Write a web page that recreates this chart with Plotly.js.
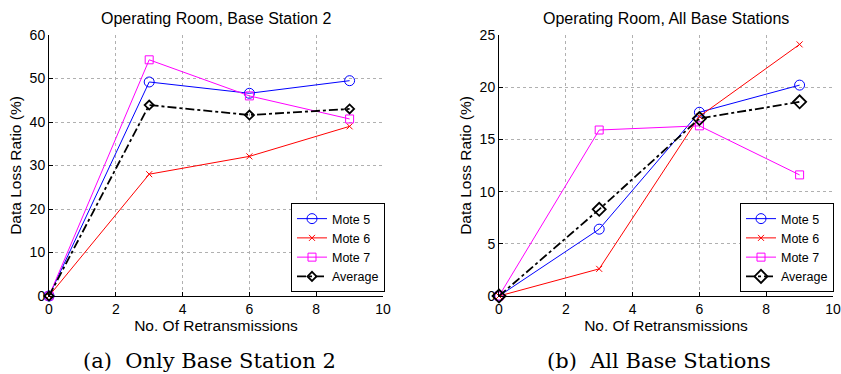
<!DOCTYPE html>
<html><head><meta charset="utf-8">
<script src="https://cdn.plot.ly/plotly-3.0.1.min.js"></script>
<style>body{margin:0;background:#fff}#plot{width:841px;height:374px}</style>
</head><body><div id="plot"></div>
<script>
const xVals = [0, 3, 6, 9];
const seriesNames = ["Mote 5", "Mote 6", "Mote 7", "Average"];
// Left: Only Base Station 2
const leftMote5 = [0, 49.2, 46.6, 49.5];
const leftMote6 = [0, 28.0, 32.1, 39.0];
const leftMote7 = [0, 54.3, 46.0, 40.7];
const leftAvg   = [0, 43.9, 41.6, 43.0];
// Right: All Base Stations
const rightMote5 = [0, 6.4, 17.6, 20.2];
const rightMote6 = [0, 2.6, 17.2, 24.1];
const rightMote7 = [0, 15.9, 16.3, 11.6];
const rightAvg   = [0, 8.3, 17.0, 18.6];
const leftTitle = "Operating Room, Base Station 2";
const rightTitle = "Operating Room, All Base Stations";
const leftCaption = "(a)  Only Base Station 2";
const rightCaption = "(b)  All Base Stations";
const xLabel = "No. Of Retransmissions";
const yLabel = "Data Loss Ratio (%)";

const styles = [
  {color: "#0000ff", symbol: "circle-open", size: 10, dash: "solid", width: 1},
  {color: "#ff0000", symbol: "x-thin-open", size: 6, dash: "solid", width: 1},
  {color: "#ff00ff", symbol: "square-open", size: 8, dash: "solid", width: 1},
  {color: "#000000", symbol: "diamond-open", size: 7, dash: "dashdot", width: 1.8}
];

function mk(ys, i, xa, ya, leg, msize) {
  const s = styles[i];
  return {x: xVals, y: ys, name: seriesNames[i], type: "scatter", mode: "lines+markers",
    xaxis: xa, yaxis: ya, legend: leg, cliponaxis: false,
    line: {color: s.color, width: s.width, dash: s.dash},
    marker: {symbol: s.symbol, size: msize || s.size, color: s.color, line: {color: s.color, width: i===3?1.8:1}}};
}
const data = [
  mk(leftMote5, 0, "x", "y", "legend"),
  mk(leftMote6, 1, "x", "y", "legend"),
  mk(leftMote7, 2, "x", "y", "legend"),
  mk(leftAvg, 3, "x", "y", "legend"),
  mk(rightMote5, 0, "x2", "y2", "legend2"),
  mk(rightMote6, 1, "x2", "y2", "legend2"),
  mk(rightMote7, 2, "x2", "y2", "legend2"),
  mk(rightAvg, 3, "x2", "y2", "legend2", 10)
];

const sans = "Liberation Sans, Arial, sans-serif";
const tickFont = {family: sans, size: 14, color: "#000"};
const axTitleFont = {family: sans, size: 15.5, color: "#000"};
const titleFont = {family: sans, size: 16, color: "#000"};
function ax(extra) {
  return Object.assign({
    showline: true, linecolor: "#000", linewidth: 1, mirror: false,
    ticks: "inside", ticklen: 4, tickcolor: "#000",
    showgrid: true, gridcolor: "#b0b0b0", griddash: "dot", gridwidth: 1,
    zeroline: false, tickfont: tickFont
  }, extra);
}
const yDom = [1 - 296/374, 1 - 35/374];
const legendBase = {xanchor: "left", yanchor: "bottom",
    bordercolor: "#000", borderwidth: 1, bgcolor: "#fff",
    font: {family: sans, size: 12.5, color: "#000"},
    tracegroupgap: 0, itemwidth: 30};
const layout = {
  width: 841, height: 374, margin: {l: 0, r: 0, t: 0, b: 0},
  paper_bgcolor: "#fff", plot_bgcolor: "#fff", showlegend: true,
  xaxis: ax({domain: [49/841, 383/841], range: [0, 10], dtick: 2, anchor: "y",
    title: {text: xLabel, font: axTitleFont, standoff: 0}}),
  yaxis: ax({domain: yDom, range: [0, 60], dtick: 10, anchor: "x",
    title: {text: yLabel, font: axTitleFont, standoff: 4}}),
  xaxis2: ax({domain: [499/841, 833/841], range: [0, 10], dtick: 2, anchor: "y2",
    title: {text: xLabel, font: axTitleFont, standoff: 0}}),
  yaxis2: ax({domain: yDom, range: [0, 25], dtick: 5, anchor: "x2",
    title: {text: yLabel, font: axTitleFont, standoff: 4}}),
  legend: Object.assign({x: 291/841, y: 1 - 292/374}, legendBase),
  legend2: Object.assign({x: 740/841, y: 1 - 292/374}, legendBase),
  annotations: [
    {text: leftTitle, x: 216/841, y: 1 - 19/374, xref: "paper", yref: "paper", showarrow: false,
      xanchor: "center", yanchor: "middle", font: titleFont},
    {text: rightTitle, x: 666/841, y: 1 - 19/374, xref: "paper", yref: "paper", showarrow: false,
      xanchor: "center", yanchor: "middle", font: titleFont},
    {text: leftCaption, x: 209/841, y: 1 - 361/374, xref: "paper", yref: "paper", showarrow: false,
      xanchor: "center", yanchor: "middle",
      font: {family: "DejaVu Serif, Liberation Serif, serif", size: 21, color: "#000"}},
    {text: rightCaption, x: 659/841, y: 1 - 361/374, xref: "paper", yref: "paper", showarrow: false,
      xanchor: "center", yanchor: "middle",
      font: {family: "DejaVu Serif, Liberation Serif, serif", size: 21, color: "#000"}}
  ]
};
Plotly.newPlot("plot", data, layout, {staticPlot: true, displayModeBar: false});
</script></body></html>
